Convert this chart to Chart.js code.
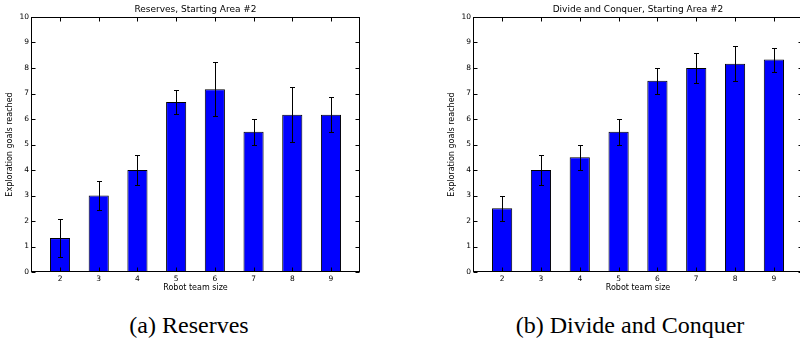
<!DOCTYPE html>
<html>
<head>
<meta charset="utf-8">
<script src="https://cdn.jsdelivr.net/npm/chart.js@4.4.0/dist/chart.umd.min.js"></script>
<style>
body { margin: 0; background: #fff; width: 800px; height: 342px; position: relative; overflow: hidden; }
.panel { position: absolute; top: 0; width: 400px; height: 300px; overflow: hidden; }
.caption { position: absolute; top: 313px; font-family: "Liberation Serif", serif; font-size: 24px; line-height: 24px; color: #000; transform: translateX(-50%); white-space: nowrap; }
</style>
</head>
<body>
<div class="panel" style="left:0"><canvas id="reserves" width="400" height="300"></canvas></div>
<div class="panel" style="left:400px"><canvas id="divide" width="410" height="300"></canvas></div>
<div class="caption" style="left:189px">(a) Reserves</div>
<div class="caption" style="left:630px">(b) Divide and Conquer</div>
<script>
const teamSizes = [2, 3, 4, 5, 6, 7, 8, 9];
const reservesMeans = [1.33, 3.0, 4.0, 6.67, 7.17, 5.5, 6.17, 6.17];
const reservesErrors = [0.75, 0.58, 0.58, 0.47, 1.07, 0.5, 1.07, 0.69];
const divideMeans = [2.5, 4.0, 4.5, 5.5, 7.5, 8.0, 8.17, 8.33];
const divideErrors = [0.5, 0.58, 0.5, 0.5, 0.5, 0.58, 0.69, 0.47];
const yTicks = [0, 1, 2, 3, 4, 5, 6, 7, 8, 9, 10];

const FONT = "'DejaVu Sans', sans-serif";

// error bars, frame, inward ticks and the axes title
const mplStyle = {
    id: 'mplStyle',
    afterDatasetsDraw(chart, args, opts) {
        const {ctx, scales: {x, y}} = chart;
        ctx.save();
        ctx.strokeStyle = '#000';
        ctx.lineWidth = 1;
        opts.means.forEach((m, i) => {
            const px = Math.round(x.getPixelForValue(teamSizes[i])) + 0.5;
            const top = Math.round(y.getPixelForValue(m + opts.errors[i])) + 0.5;
            const bot = Math.round(y.getPixelForValue(m - opts.errors[i])) + 0.5;
            ctx.beginPath();
            ctx.moveTo(px, top); ctx.lineTo(px, bot);
            ctx.moveTo(px - 2.5, top); ctx.lineTo(px + 2.5, top);
            ctx.moveTo(px - 2.5, bot); ctx.lineTo(px + 2.5, bot);
            ctx.stroke();
        });
        ctx.restore();
    },
    afterDraw(chart, args, opts) {
        const {ctx, chartArea: a, scales: {x, y}} = chart;
        ctx.save();
        ctx.strokeStyle = '#000';
        ctx.lineWidth = 1;
        const l = Math.round(a.left) + 0.5, r = Math.round(a.right) - 0.5;
        const t = Math.round(a.top) + 0.5, b = Math.round(a.bottom) - 0.5;
        ctx.strokeRect(l, t, r - l, b - t);
        ctx.beginPath();
        yTicks.forEach(v => {
            const py = Math.round(y.getPixelForValue(v)) + 0.5;
            ctx.moveTo(l, py); ctx.lineTo(l + 4, py);
            ctx.moveTo(r, py); ctx.lineTo(r - 4, py);
        });
        teamSizes.forEach(v => {
            const px = Math.round(x.getPixelForValue(v)) + 0.5;
            ctx.moveTo(px, b); ctx.lineTo(px, b - 4);
            ctx.moveTo(px, t); ctx.lineTo(px, t + 4);
        });
        ctx.stroke();
        ctx.fillStyle = '#000';
        ctx.font = '9px ' + FONT;
        ctx.textAlign = 'center';
        ctx.textBaseline = 'middle';
        ctx.fillText(opts.title, (a.left + a.right) / 2, 10);
        ctx.restore();
    }
};

function makeChart(id, title, means, errors, padLeft, padRight) {
    return new Chart(document.getElementById(id), {
        type: 'bar',
        data: {
            datasets: [{
                data: teamSizes.map((t, i) => ({x: t, y: means[i]})),
                backgroundColor: '#0000ff',
                borderColor: '#000',
                borderWidth: 1,
                borderSkipped: false,
                barPercentage: 0.52,
                categoryPercentage: 1.0
            }]
        },
        options: {
            responsive: false,
            animation: false,
            layout: {padding: {left: padLeft, right: padRight, top: 17, bottom: 0}},
            plugins: {
                legend: {display: false},
                tooltip: {enabled: false},
                mplStyle: {title: title, means: means, errors: errors}
            },
            scales: {
                x: {
                    type: 'linear',
                    min: 1.25,
                    max: 9.75,
                    offset: false,
                    grid: {display: false, drawTicks: false},
                    border: {display: false},
                    afterBuildTicks: s => { s.ticks = teamSizes.map(v => ({value: v})); },
                    afterFit: s => { s.height = 28; },
                    ticks: {font: {family: FONT, size: 7.5}, color: '#000', padding: 3, maxRotation: 0},
                    title: {display: true, text: 'Robot team size', font: {family: FONT, size: 8}, color: '#000', padding: {top: 0, bottom: 7}}
                },
                y: {
                    min: 0,
                    max: 10,
                    grid: {display: false, drawTicks: false},
                    border: {display: false},
                    afterBuildTicks: s => { s.ticks = yTicks.map(v => ({value: v})); },
                    afterFit: s => { s.width = 31; },
                    ticks: {font: {family: FONT, size: 7.5}, color: '#000', padding: 2},
                    title: {display: true, text: 'Exploration goals reached', font: {family: FONT, size: 8}, color: '#000', padding: {top: 5, bottom: 0}}
                }
            }
        },
        plugins: [mplStyle]
    });
}

makeChart('reserves', 'Reserves, Starting Area #2', reservesMeans, reservesErrors, 0, 40);
makeChart('divide', 'Divide and Conquer, Starting Area #2', divideMeans, divideErrors, 42, 7);
</script>
</body>
</html>
